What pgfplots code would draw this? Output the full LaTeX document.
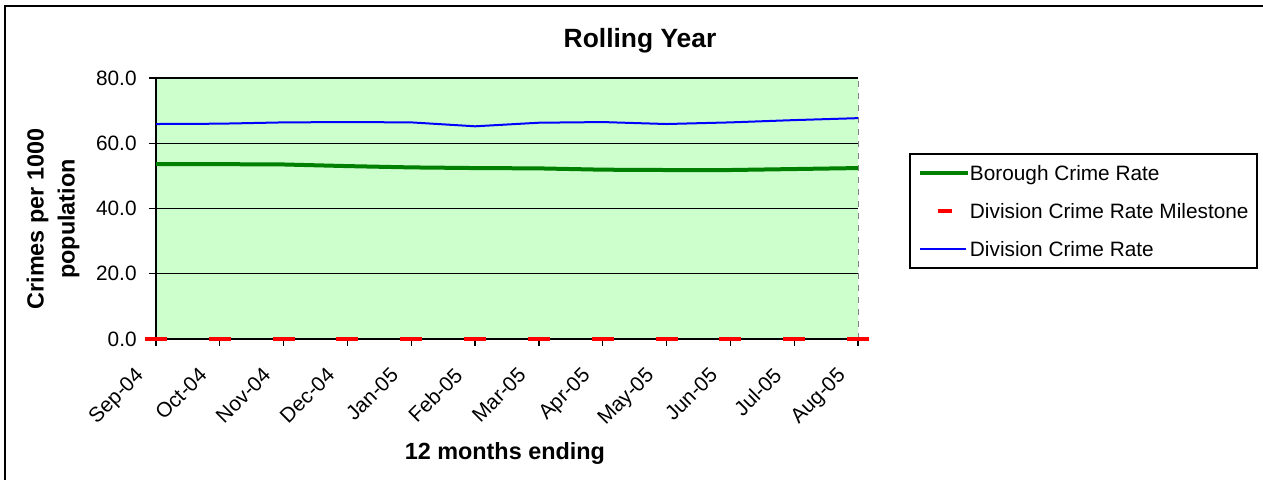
\documentclass[border=0pt]{standalone}
\usepackage{fontspec}
\setmainfont{Liberation Sans}
\usepackage{pgfplots}
\pgfplotsset{compat=1.18}
\definecolor{plotbg}{HTML}{CCFFCC}
\definecolor{boro}{HTML}{008000}
\definecolor{divi}{HTML}{0000FF}
\begin{document}
\begin{tikzpicture}
\path[use as bounding box] (0,0) rectangle (631.5pt,239.5pt);
\clip (0,0) rectangle (631.5pt,239.5pt);
% outer chart frame
\draw[black, line width=1pt] (2.5pt,-10pt) -- (2.5pt,236.5pt) -- (640pt,236.5pt);
\begin{axis}[
  at={(78pt,70pt)}, anchor=south west,
  scale only axis, width=351pt, height=130.5pt,
  xmin=0, xmax=11, ymin=0, ymax=80,
  axis background/.style={fill=plotbg},
  axis lines*=left,
  axis line style={-, black, line width=1pt},
  xtick={0,...,11},
  xticklabels={Sep-04,Oct-04,Nov-04,Dec-04,Jan-05,Feb-05,Mar-05,Apr-05,May-05,Jun-05,Jul-05,Aug-05},
  ytick={0,20,40,60,80},
  tick align=outside,
  major tick length=3.5pt,
  tick style={black, line width=0.6pt},
  ymajorgrids,
  grid style={black, line width=0.6pt},
  /pgf/number format/.cd, fixed, fixed zerofill, precision=1, assume math mode=true,
  /pgfplots/.cd,
  tick label style={font=\fontsize{10.4}{12}\selectfont},
  xticklabel style={xshift=-11pt, yshift=-8.5pt, rotate=45, anchor=north east, inner sep=1pt},
  yticklabel style={xshift=-5pt, anchor=east, inner sep=1pt},
  title={Rolling Year},
  title style={at={(axis description cs:0.6895,1.095)}, anchor=center, font=\fontsize{13.2}{15}\selectfont\bfseries},
  xlabel={12 months ending},
  xlabel style={at={(axis description cs:0.497,-0.437)}, anchor=center, font=\fontsize{11.7}{14}\selectfont\bfseries},
  ylabel={Crimes per 1000\\population},
  ylabel style={at={(axis description cs:-0.1467,0.46)}, anchor=center, align=center, font=\fontsize{11.7}{15.5}\selectfont\bfseries},
  legend style={at={(axis description cs:1.0726,0.7126)}, anchor=north west,
    draw=black, line width=1pt, fill=white,
    font=\fontsize{10.4}{12}\selectfont,
    inner xsep=4pt, inner ysep=0pt, row sep=0pt,
    nodes={inner sep=0pt, text height=13.2pt, text depth=5.8pt}},
  legend cell align=left,
  clip=false,
]
\addplot[boro, line width=2pt, mark=none,
  legend image code/.code={\draw[boro, line width=2pt] (0pt,0pt) -- (24pt,0pt);}]
  coordinates {(0,53.6) (1,53.6) (2,53.5) (3,53.0) (4,52.6) (5,52.4) (6,52.3) (7,51.9) (8,51.8) (9,51.8) (10,52.1) (11,52.4)};
\addlegendentry{Borough Crime Rate}
\addplot[only marks, mark=-, mark size=5.5pt, mark options={draw=red, line width=2pt},
  legend image code/.code={\draw[red, line width=1.75pt] (9pt,0pt) -- (16pt,0pt); \path (0pt,0pt) (24pt,0pt);}]
  coordinates {(0,0) (1,0) (2,0) (3,0) (4,0) (5,0) (6,0) (7,0) (8,0) (9,0) (10,0) (11,0)};
\addlegendentry{Division Crime Rate Milestone}
\addplot[divi, line width=1pt, mark=none,
  legend image code/.code={\draw[divi, line width=1pt] (0pt,0pt) -- (23pt,0pt); \path (24pt,0pt);}]
  coordinates {(0,65.9) (1,66.0) (2,66.4) (3,66.5) (4,66.4) (5,65.2) (6,66.3) (7,66.5) (8,65.9) (9,66.4) (10,67.1) (11,67.7)};
\addlegendentry{Division Crime Rate}
\draw[gray, dashed, line width=0.5pt] (rel axis cs:1,0) -- (rel axis cs:1,1);
\end{axis}
\end{tikzpicture}
\end{document}
